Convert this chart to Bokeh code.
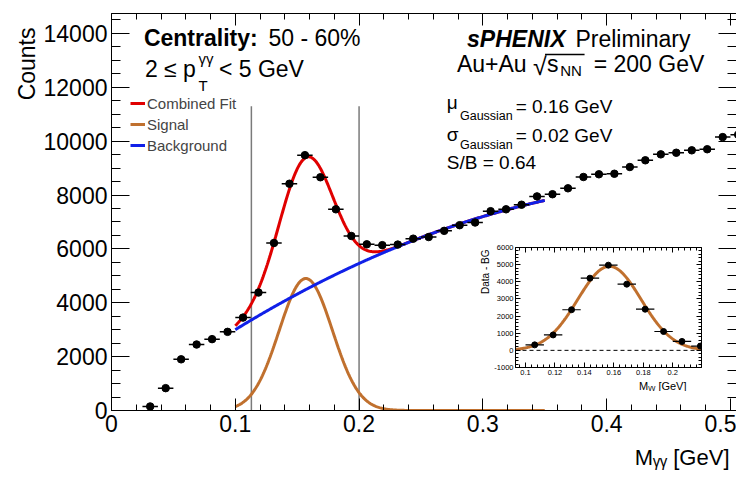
import numpy as np
from bokeh.plotting import figure
from bokeh.models import (Range1d, LinearAxis, Label, Legend, LegendItem, Span, Title,
                          BoxAnnotation, SingleIntervalTicker, CustomJSTickFormatter)
from bokeh.embed import file_html
from bokeh.resources import INLINE

FONT = "Liberation Sans"

# ---------------- data ----------------
mass = [0.03125, 0.04375, 0.05625, 0.06875, 0.08125, 0.09375, 0.10625, 0.11875,
        0.13125, 0.14375, 0.15625, 0.16875, 0.18125, 0.19375, 0.20625, 0.21875,
        0.23125, 0.24375, 0.25625, 0.26875, 0.28125, 0.29375, 0.30625, 0.31875,
        0.33125, 0.34375, 0.35625, 0.36875, 0.38125, 0.39375, 0.40625, 0.41875,
        0.43125, 0.44375, 0.45625, 0.46875, 0.48125, 0.49375, 0.50625]
counts = [150, 830, 1900, 2450, 2650, 2920, 3450, 4380,
          6220, 8420, 9480, 8660, 7470, 6480, 6170, 6140,
          6160, 6380, 6440, 6670, 6880, 6980, 7400, 7470,
          7640, 7950, 8030, 8250, 8670, 8770, 8790, 9040,
          9290, 9510, 9570, 9660, 9700, 10150, 10240]
bin_half_width = 0.00625

inset_mass = [0.10625, 0.11875, 0.13125, 0.14375, 0.15625,
              0.16875, 0.18125, 0.19375, 0.20625, 0.21875]
inset_sub = [320, 900, 2370, 4210, 4970, 3860, 2400, 1100, 520, 250]

# fit parameters (Gaussian signal + quadratic background)
fit_lo, fit_hi = 0.10, 0.35
sig_amp, sig_mu, sig_sigma = 4900.0, 0.157, 0.0215
bkg_c0, bkg_c1, bkg_c2 = 3000.0, 28200.0, -36000.0

window_edges = [0.113, 0.2]
window_top = 11300

RED = "#e00000"
BROWN = "#c0702e"
BLUE = "#1020e8"

NUM_FMT = "return String(Number(tick.toFixed(6)))"
EMPTY_FMT = "return ''"

# ---------------- main figure ----------------
p = figure(width=736, height=478, output_backend="svg", toolbar_location=None,
           x_range=Range1d(0, 0.5049), y_range=Range1d(0, 14740),
           x_axis_location=None, y_axis_location=None,
           min_border_left=111, min_border_right=0, min_border_top=13, min_border_bottom=67)
p.outline_line_color = None
p.grid.visible = False
p.background_fill_color = "white"
p.border_fill_color = "white"


def style_axis(ax, tin, minin, labels=True, size="23px", standoff=4):
    ax.axis_line_color = "black"
    ax.axis_line_width = 1
    ax.major_tick_in = tin
    ax.major_tick_out = 0
    ax.minor_tick_in = minin
    ax.minor_tick_out = 0
    ax.major_tick_line_color = "black"
    ax.minor_tick_line_color = "black"
    if labels:
        ax.formatter = CustomJSTickFormatter(code=NUM_FMT)
        ax.major_label_text_font = FONT
        ax.major_label_text_font_size = size
        ax.major_label_text_color = "black"
        ax.major_label_standoff = standoff
    else:
        ax.formatter = CustomJSTickFormatter(code=EMPTY_FMT)
        ax.major_label_text_font_size = "1px"
        ax.major_label_standoff = 0
    return ax


xb = LinearAxis(ticker=SingleIntervalTicker(interval=0.1, num_minor_ticks=5))
style_axis(xb, 12, 6)
p.add_layout(xb, "below")
xt = LinearAxis(ticker=SingleIntervalTicker(interval=0.1, num_minor_ticks=5))
style_axis(xt, 12, 6, labels=False)
p.add_layout(xt, "above")
yl = LinearAxis(ticker=SingleIntervalTicker(interval=2000, num_minor_ticks=4))
style_axis(yl, 18, 9)
p.add_layout(yl, "left")
yr = LinearAxis(ticker=SingleIntervalTicker(interval=2000, num_minor_ticks=4))
style_axis(yr, 18, 9, labels=False)
yr.axis_line_color = None
p.add_layout(yr, "right")

p.add_layout(Title(text="Counts", align="right", text_font=FONT, text_font_size="23px",
                   text_font_style="normal", text_color="black", standoff=2, offset=14), "left")
p.add_layout(Title(text="M\u1d67\u1d67 [GeV]", align="right", text_font=FONT,
                   text_font_size="22px", text_font_style="normal", text_color="black",
                   standoff=17, offset=7), "below")

# integration window lines
p.segment(x0=window_edges, y0=[0, 0], x1=window_edges, y1=[window_top, window_top],
          line_color="#7a7a7a", line_width=1.5)

xf = np.linspace(fit_lo, fit_hi, 400)
sig = sig_amp * np.exp(-0.5 * ((xf - sig_mu) / sig_sigma) ** 2)
bkg = bkg_c0 + bkg_c1 * (xf - fit_lo) + bkg_c2 * (xf - fit_lo) ** 2

r_red = p.line(xf, sig + bkg, line_color=RED, line_width=3)
r_brown = p.line(xf, sig, line_color=BROWN, line_width=3)
r_blue = p.line(xf, bkg, line_color=BLUE, line_width=3)

m = np.array(mass)
p.segment(x0=m - bin_half_width, x1=m + bin_half_width, y0=counts, y1=counts,
          line_color="black", line_width=1.5)
p.scatter(mass, counts, size=7.5, fill_color="black", line_color="black")

legend = Legend(items=[LegendItem(label="Combined Fit", renderers=[r_red]),
                       LegendItem(label="Signal", renderers=[r_brown]),
                       LegendItem(label="Background", renderers=[r_blue])],
                location=(19, 255), orientation="vertical", glyph_width=15, glyph_height=20,
                label_height=20, label_standoff=2, spacing=1, padding=0, margin=0,
                border_line_color=None, background_fill_alpha=0,
                label_text_font=FONT, label_text_font_size="15px")
p.add_layout(legend)


# screenshot px -> main data coords
def dx(X):
    return (X - 111.0) / 1222.0


def dy(Y):
    return (410.7 - Y) / 0.027


def lab(fig, conv, X, Y, text, size, style="normal", align="left"):
    # Y is the wanted baseline; anchor at the middle of the em box
    fig.add_layout(Label(x=conv[0](X), y=conv[1](Y - 0.31 * size), text=text, text_font=FONT,
                         text_font_size=f"{size}px", text_font_style=style,
                         text_align=align, text_baseline="middle", text_color="black"))


MC = (dx, dy)
lab(p, MC, 143, 44, "Centrality:", 23, "bold")
lab(p, MC, 266, 44, "50 - 60%", 23)
lab(p, MC, 144, 75, "2 \u2264 p", 23)
lab(p, MC, 197, 90, "T", 15)
lab(p, MC, 197, 62, "\u03b3\u03b3", 15)
lab(p, MC, 217, 75, "< 5 GeV", 23)

lab(p, MC, 462, 45, "sPHENIX", 23, "bold italic")
lab(p, MC, 569, 45, "Preliminary", 23)
lab(p, MC, 452, 70, "Au+Au", 23)
lab(p, MC, 527, 73, "\u221a", 25)
p.add_layout(BoxAnnotation(left=dx(539), right=dx(578), top=dy(53), bottom=dy(54.5),
                           fill_color="black", fill_alpha=1, line_color=None))
lab(p, MC, 541, 70, "s", 23)
lab(p, MC, 554, 75, "NN", 15)
lab(p, MC, 587, 70, "= 200 GeV", 23)

lab(p, MC, 442, 108, "\u03bc", 19)
lab(p, MC, 455, 119, "Gaussian", 12.5)
lab(p, MC, 510, 112, "= 0.16 GeV", 19)
lab(p, MC, 442, 140, "\u03c3", 19)
lab(p, MC, 455, 148, "Gaussian", 12.5)
lab(p, MC, 510, 141, "= 0.02 GeV", 19)
lab(p, MC, 442, 168, "S/B = 0.64", 19)

# ---------------- inset ----------------
inset = figure(width=228, height=153, output_backend="svg", toolbar_location=None,
               x_range=Range1d(0.0932, 0.2195), y_range=Range1d(-1000, 6000),
               x_axis_location=None, y_axis_location=None,
               min_border_left=36, min_border_right=4, min_border_top=9, min_border_bottom=24)
inset.outline_line_color = None
inset.grid.visible = False
inset.background_fill_color = "white"
inset.border_fill_color = "white"

ib = LinearAxis(ticker=SingleIntervalTicker(interval=0.02, num_minor_ticks=5))
style_axis(ib, 5, 3, size="7.5px", standoff=2)
inset.add_layout(ib, "below")
it = LinearAxis(ticker=SingleIntervalTicker(interval=0.02, num_minor_ticks=5))
style_axis(it, 5, 3, labels=False)
inset.add_layout(it, "above")
il = LinearAxis(ticker=SingleIntervalTicker(interval=1000, num_minor_ticks=5))
style_axis(il, 5, 3, size="7.5px", standoff=2)
inset.add_layout(il, "left")
ir = LinearAxis(ticker=SingleIntervalTicker(interval=1000, num_minor_ticks=5))
style_axis(ir, 5, 3, labels=False)
inset.add_layout(ir, "right")

inset.add_layout(Title(text="Data - BG", align="right", text_font=FONT, text_font_size="10px",
                       text_font_style="normal", text_color="black", standoff=1, offset=2), "left")
inset.add_layout(Title(text="M\u1d67\u1d67 [GeV]", align="right", text_font=FONT,
                       text_font_size="11px", text_font_style="normal", text_color="black",
                       standoff=0, offset=15), "below")

inset.add_layout(Span(location=0, dimension="width", line_color="black",
                      line_dash="4 3", line_width=1))
xi = np.linspace(0.0932, 0.2195, 300)
inset.line(xi, sig_amp * np.exp(-0.5 * ((xi - sig_mu) / sig_sigma) ** 2),
           line_color=BROWN, line_width=3)
im = np.array(inset_mass)
inset.segment(x0=im - bin_half_width, x1=im + bin_half_width, y0=inset_sub, y1=inset_sub,
              line_color="black", line_width=1.2)
inset.scatter(inset_mass, inset_sub, size=6, fill_color="black", line_color="black")

inset.styles = {"position": "absolute", "left": "477px", "top": "238px"}

open("out.html", "w").write(file_html([p, inset], INLINE))
